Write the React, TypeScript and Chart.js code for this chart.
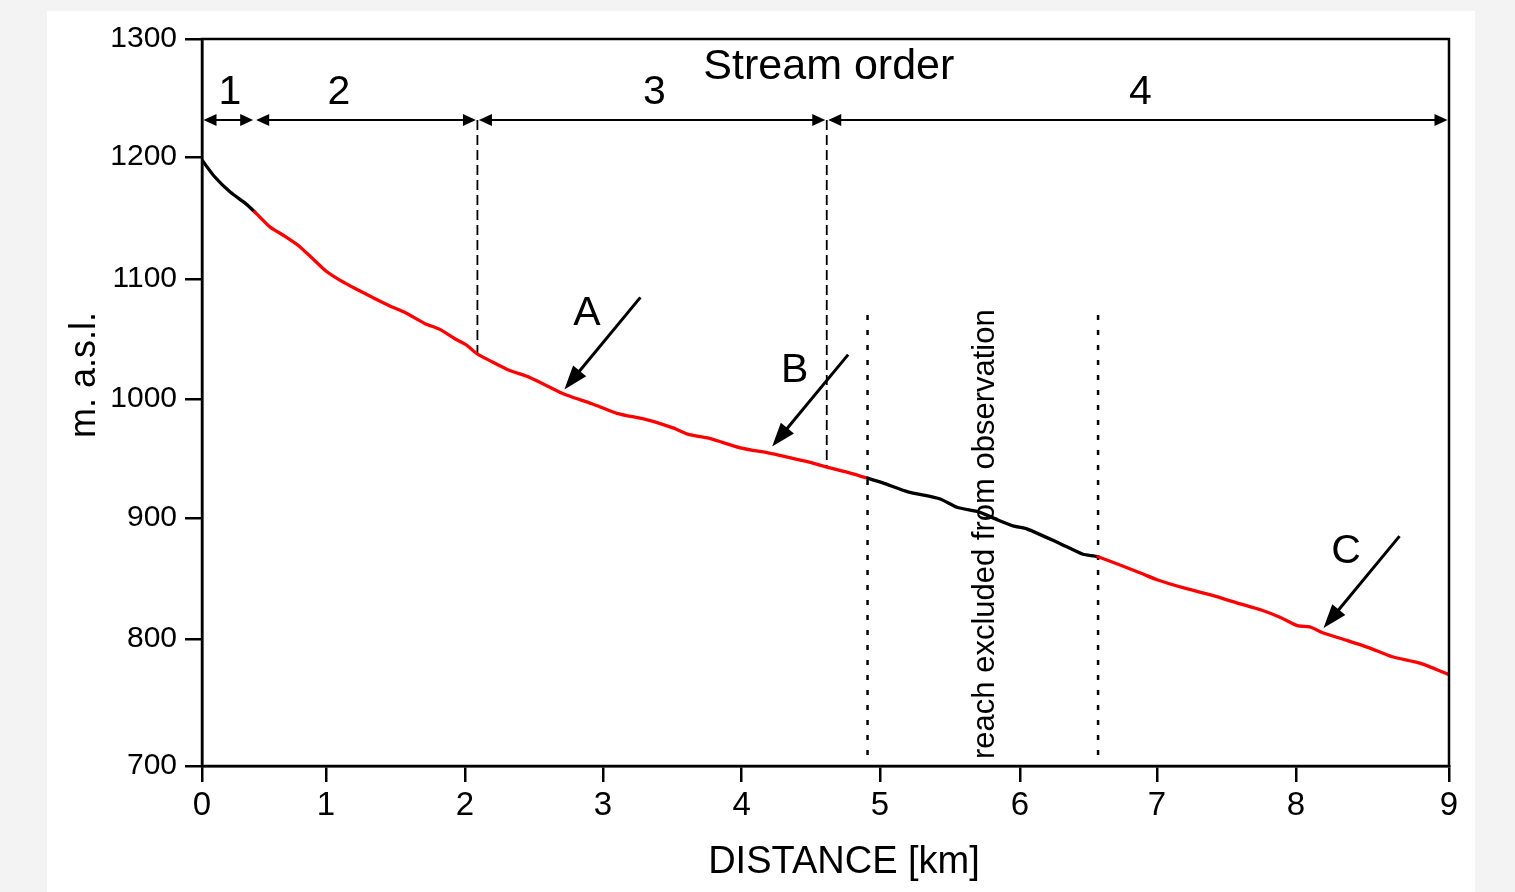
import React, { useEffect, useRef } from 'react';
import { Chart, registerables, LinearScale } from 'chart.js';

const FONT = "'Liberation Sans', Arial, Helvetica, sans-serif";

// ---------------- data ----------------
const distanceKm = [0, 0.1, 0.23, 0.35, 0.425, 0.55, 0.67, 0.77, 0.89, 1.0, 1.1, 1.21, 1.33, 1.46, 1.57, 1.71, 1.82, 1.93, 2.01, 2.09, 2.18, 2.32, 2.47, 2.7, 2.78, 2.92, 3.1, 3.32, 3.51, 3.61, 3.78, 3.99, 4.2, 4.3, 4.49, 4.61, 4.78, 4.91, 5.02, 5.2, 5.43, 5.55, 5.71, 5.84, 5.95, 6.05, 6.29, 6.46, 6.57, 6.88, 7.0, 7.2, 7.4, 7.6, 7.75, 7.885, 8.01, 8.09, 8.18, 8.33, 8.48, 8.63, 8.81, 9.0];
const elevationM = [1197.5, 1184, 1171, 1162, 1155, 1142.5, 1135, 1128, 1117, 1106.5, 1099, 1092, 1085, 1077.5, 1072, 1063, 1058, 1050, 1045, 1037.5, 1032, 1024, 1018, 1005, 1001.5, 996, 988, 982.5, 975.5, 970.5, 966.5, 959, 954.5, 952, 947, 943, 938, 933.5, 929.5, 922, 916, 909, 905, 898.5, 893.5, 891, 879, 870, 868, 854.5, 849, 842, 836, 829, 824, 818, 811, 810, 805, 799, 793, 786, 781, 772];

const xTickValues = [0, 1, 2, 3, 4, 5, 6, 7, 8, 9];
const yTickValues = [700, 800, 900, 1000, 1100, 1200, 1300];

const streamOrderLabels = ['1', '2', '3', '4'];
const streamOrderBoundsKm = [0, 0.425, 2.09, 4.615, 9];
const streamOrderLabelKm = [0.226, 1.094, 3.37, 6.88];
const streamOrderTitle = 'Stream order';

const unobservedStartKm = 0.425; // black upstream part
const excludedReachKm = [4.91, 6.57];
const excludedReachTopM = 1070;
const excludedReachText = 'reach excluded from observation';

const arrowLabels = ['A', 'B', 'C'];
const arrowTipKm = [2.72, 4.22, 8.18];
const arrowTipM = [1008, 960, 809];

const xAxisTitle = 'DISTANCE [km]';
const yAxisTitle = 'm. a.s.l.';

// uneven tick placement of the source figure (fraction of axis length)
const X_TICK_FRACTIONS = [0, 0.0994, 0.2109, 0.3216, 0.4328, 0.5437, 0.656, 0.7658, 0.8773, 1];
const Y_TICK_FRACTIONS = [0, 0.1747, 0.3411, 0.5048, 0.6699, 0.8377, 1];

// ---------------- custom scale: linear values, piecewise pixel mapping ----------------
class KnotScale extends LinearScale {
  static id = 'knotLinear';
  static defaults = LinearScale.defaults;
  knots() {
    return this.axis === 'x'
      ? { v: xTickValues, f: X_TICK_FRACTIONS }
      : { v: yTickValues, f: Y_TICK_FRACTIONS };
  }
  getPixelForValue(value: any) {
    if (value === null || value === undefined || isNaN(value)) return NaN;
    const { v, f } = this.knots();
    let i = 0;
    while (i < v.length - 2 && value > v[i + 1]) i++;
    const t = (value - v[i]) / (v[i + 1] - v[i]);
    const dec = f[i] + t * (f[i + 1] - f[i]);
    return (this as any).getPixelForDecimal(dec);
  }
  getValueForPixel(pixel: number) {
    const dec = (this as any).getDecimalForPixel(pixel);
    const { v, f } = this.knots();
    let i = 0;
    while (i < f.length - 2 && dec > f[i + 1]) i++;
    const t = (dec - f[i]) / (f[i + 1] - f[i]);
    return v[i] + t * (v[i + 1] - v[i]);
  }
}

Chart.register(...registerables, KnotScale as any);

function elevAt(km: number) {
  for (let i = 0; i < distanceKm.length - 1; i++) {
    if (km <= distanceKm[i + 1]) {
      const t = (km - distanceKm[i]) / (distanceKm[i + 1] - distanceKm[i]);
      return elevationM[i] + t * (elevationM[i + 1] - elevationM[i]);
    }
  }
  return elevationM[elevationM.length - 1];
}

function isBlackReach(km: number) {
  return km < unobservedStartKm || (km > excludedReachKm[0] && km < excludedReachKm[1]);
}

function head(ctx: CanvasRenderingContext2D, tx: number, ty: number, ux: number, uy: number, len: number, half: number) {
  const bx = tx - ux * len;
  const by = ty - uy * len;
  ctx.beginPath();
  ctx.moveTo(tx, ty);
  ctx.lineTo(bx - uy * half, by + ux * half);
  ctx.lineTo(bx + uy * half, by - ux * half);
  ctx.closePath();
  ctx.fill();
}

const overlayPlugin = {
  id: 'overlay',
  beforeDatasetsDraw(chart: any) {
    const { ctx, chartArea, scales } = chart;
    const x = scales.x;
    const y = scales.y;
    ctx.save();
    ctx.strokeStyle = '#000';
    // dotted bounds of excluded reach
    ctx.lineWidth = 2.5;
    ctx.setLineDash([5, 10]);
    for (const km of excludedReachKm) {
      const px = x.getPixelForValue(km);
      ctx.beginPath();
      ctx.moveTo(px, y.getPixelForValue(excludedReachTopM));
      ctx.lineTo(px, chartArea.bottom);
      ctx.stroke();
    }
    // dashed stream order separators
    ctx.lineWidth = 1.8;
    ctx.setLineDash([10, 5]);
    const arrowY = chartArea.top + 81;
    for (const km of streamOrderBoundsKm.slice(2, 4)) {
      const px = x.getPixelForValue(km);
      ctx.beginPath();
      ctx.moveTo(px, arrowY);
      ctx.lineTo(px, y.getPixelForValue(elevAt(km)));
      ctx.stroke();
    }
    ctx.restore();
  },
  afterDatasetsDraw(chart: any) {
    const { ctx, chartArea, scales } = chart;
    const x = scales.x;
    const y = scales.y;
    ctx.save();
    ctx.strokeStyle = '#000';
    ctx.fillStyle = '#000';
    ctx.setLineDash([]);

    // frame
    ctx.lineWidth = 2.5;
    ctx.strokeRect(chartArea.left, chartArea.top, chartArea.right - chartArea.left, chartArea.bottom - chartArea.top);

    // stream order arrows
    const arrowY = chartArea.top + 81;
    ctx.lineWidth = 1.8;
    for (let i = 0; i < streamOrderLabels.length; i++) {
      const a = x.getPixelForValue(streamOrderBoundsKm[i]) + 1.5;
      const b = x.getPixelForValue(streamOrderBoundsKm[i + 1]) - 1.5;
      ctx.beginPath();
      ctx.moveTo(a + 8, arrowY);
      ctx.lineTo(b - 8, arrowY);
      ctx.stroke();
      head(ctx, a, arrowY, -1, 0, 13, 6);
      head(ctx, b, arrowY, 1, 0, 13, 6);
    }
    ctx.textAlign = 'center';
    ctx.textBaseline = 'middle';
    ctx.font = `41px ${FONT}`;
    for (let i = 0; i < streamOrderLabels.length; i++) {
      ctx.fillText(streamOrderLabels[i], x.getPixelForValue(streamOrderLabelKm[i]), chartArea.top + 54);
    }
    ctx.font = `43px ${FONT}`;
    ctx.fillText(streamOrderTitle, x.getPixelForValue(4.63), chartArea.top + 28);

    // excluded reach text
    ctx.save();
    const tx = x.getPixelForValue((excludedReachKm[0] + excludedReachKm[1]) / 2) + 10;
    ctx.translate(tx, chartArea.bottom - 7);
    ctx.rotate(-Math.PI / 2);
    ctx.font = `31px ${FONT}`;
    ctx.textAlign = 'left';
    ctx.textBaseline = 'alphabetic';
    ctx.fillText(excludedReachText, 0, 0);
    ctx.restore();

    // arrows A, B, C
    ctx.lineWidth = 3;
    ctx.font = `41px ${FONT}`;
    ctx.textAlign = 'center';
    ctx.textBaseline = 'middle';
    for (let i = 0; i < arrowLabels.length; i++) {
      const tipX = x.getPixelForValue(arrowTipKm[i]);
      const tipY = y.getPixelForValue(arrowTipM[i]);
      const tailX = tipX + 76;
      const tailY = tipY - 92;
      const dx = tipX - tailX;
      const dy = tipY - tailY;
      const L = Math.hypot(dx, dy);
      const ux = dx / L;
      const uy = dy / L;
      ctx.beginPath();
      ctx.moveTo(tailX, tailY);
      ctx.lineTo(tipX - ux * 18, tipY - uy * 18);
      ctx.stroke();
      head(ctx, tipX, tipY, ux, uy, 24, 8.5);
      ctx.fillText(arrowLabels[i], tipX + 22.5, tipY - 76);
    }

    // axis titles
    ctx.font = `38px ${FONT}`;
    ctx.textAlign = 'center';
    ctx.textBaseline = 'alphabetic';
    ctx.fillText(xAxisTitle, 797, 862);
    ctx.save();
    ctx.translate(48, 364);
    ctx.rotate(-Math.PI / 2);
    ctx.font = `36px ${FONT}`;
    ctx.fillText(yAxisTitle, 0, 0);
    ctx.restore();

    ctx.restore();
  },
};

export default function App() {
  const ref = useRef<HTMLCanvasElement>(null);

  useEffect(() => {
    if (!ref.current) return;
    const chart = new Chart(ref.current, {
      type: 'line',
      data: {
        datasets: [
          {
            data: distanceKm.map((d, i) => ({ x: d, y: elevationM[i] })),
            borderColor: '#ff0000',
            borderWidth: 3.3,
            pointRadius: 0,
            tension: 0.2,
            borderCapStyle: 'round',
            borderJoinStyle: 'round',
            segment: {
              borderColor: (c: any) => (isBlackReach((c.p0.parsed.x + c.p1.parsed.x) / 2) ? '#000000' : '#ff0000'),
            },
          } as any,
        ],
      },
      options: {
        responsive: false,
        animation: false,
        events: [],
        layout: { padding: { top: 28, right: 26, left: 0, bottom: 0 } },
        plugins: { legend: { display: false }, tooltip: { enabled: false } },
        scales: {
          x: {
            type: 'knotLinear' as any,
            min: 0,
            max: 9,
            ticks: {
              stepSize: 1,
              autoSkip: false,
              maxRotation: 0,
              padding: 4,
              color: '#000',
              font: { family: FONT, size: 33 },
              callback: (v: any) => String(v),
            },
            grid: { drawOnChartArea: false, tickLength: 16, color: '#000', lineWidth: 2.5 },
            border: { color: '#000', width: 2.5 },
            afterFit: (s: any) => {
              s.height = 126;
            },
          } as any,
          y: {
            type: 'knotLinear' as any,
            min: 700,
            max: 1300,
            ticks: {
              stepSize: 100,
              autoSkip: false,
              padding: 8,
              color: '#000',
              font: { family: FONT, size: 30 },
              callback: (v: any) => String(v),
            },
            grid: { drawOnChartArea: false, tickLength: 17, color: '#000', lineWidth: 2.5 },
            border: { color: '#000', width: 2.5 },
            afterFit: (s: any) => {
              s.width = 155;
            },
          } as any,
        },
      },
      plugins: [overlayPlugin],
    });
    return () => chart.destroy();
  }, []);

  return (
    <div style={{ position: 'fixed', left: 0, top: 0, width: 1515, height: 892, background: '#f3f3f3' }}>
      <div style={{ position: 'absolute', left: 47, top: 11, width: 1428, height: 881, background: '#ffffff' }}>
        <canvas ref={ref} width={1428} height={881} style={{ display: 'block', width: 1428, height: 881 }} />
      </div>
    </div>
  );
}
